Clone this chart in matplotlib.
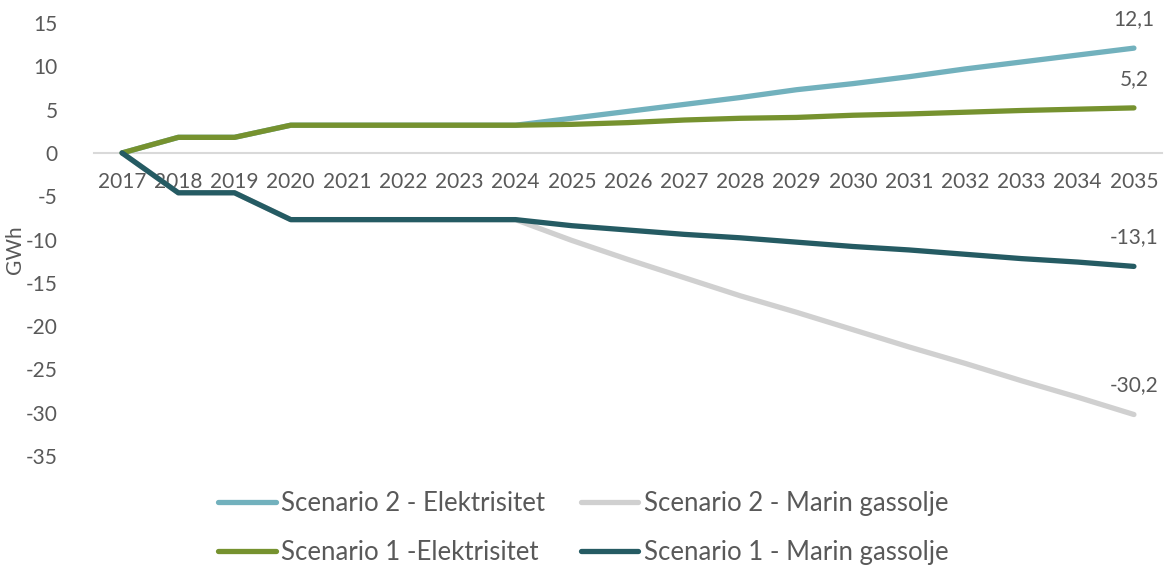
import matplotlib
matplotlib.use("Agg")
import matplotlib.pyplot as plt

plt.rcParams["font.family"] = ["Lato", "DejaVu Sans"]
plt.rcParams["axes.unicode_minus"] = False

years = [str(y) for y in range(2017, 2036)]

s2_el = [0, 1.8, 1.8, 3.2, 3.2, 3.2, 3.2, 3.2, 4.0, 4.8, 5.6, 6.4, 7.3, 8.0, 8.8, 9.7, 10.5, 11.3, 12.1]
s2_mgo = [0, -4.6, -4.6, -7.7, -7.7, -7.7, -7.7, -7.7, -10.1, -12.3, -14.4, -16.5, -18.4, -20.4, -22.4, -24.3, -26.3, -28.2, -30.2]
s1_el = [0, 1.8, 1.8, 3.2, 3.2, 3.2, 3.2, 3.2, 3.3, 3.5, 3.8, 4.0, 4.1, 4.35, 4.5, 4.7, 4.9, 5.05, 5.2]
s1_mgo = [0, -4.6, -4.6, -7.7, -7.7, -7.7, -7.7, -7.7, -8.4, -8.9, -9.4, -9.8, -10.3, -10.8, -11.2, -11.7, -12.2, -12.6, -13.1]

labels = ["Scenario 2 - Elektrisitet", "Scenario 2 - Marin gassolje",
          "Scenario 1 -Elektrisitet", "Scenario 1 - Marin gassolje"]
colors = ["#72B1BD", "#D0D0D0", "#76922F", "#255B63"]
series = [s2_el, s2_mgo, s1_el, s1_mgo]

txt = "#595959"

fig = plt.figure(figsize=(11.66, 5.68), dpi=100)
ax = fig.add_axes([0.0806, 0.197, 0.916, 0.7625])

x = list(range(len(years)))
handles = []
for vals, col, lab in zip(series, colors, labels):
    h, = ax.plot(x, vals, color=col, lw=3.8, solid_capstyle="round",
                 solid_joinstyle="round", label=lab, zorder=3)
    handles.append(h)
    v = vals[-1]
    ax.annotate(f"{v:.1f}".replace(".", ","), (x[-1], v), xytext=(0, 21),
                textcoords="offset points", ha="center", va="center",
                fontsize=15, color=txt)

ax.set_xlim(-0.5, len(years) - 0.5)
ax.set_ylim(-35, 15)
ax.set_yticks(range(-35, 16, 5))
ax.set_xticks(x)
ax.set_xticklabels(years)

for s in ["top", "right", "left"]:
    ax.spines[s].set_visible(False)
ax.spines["bottom"].set_position(("data", 0))
ax.spines["bottom"].set_color("#D9D9D9")
ax.spines["bottom"].set_linewidth(1.5)
ax.spines["bottom"].set_zorder(0)

ax.tick_params(axis="x", length=0, pad=14, labelsize=15, labelcolor=txt)
ax.tick_params(axis="y", length=0, pad=26, labelsize=15, labelcolor=txt)

fig.text(15 / 1166, 1 - 250 / 568, "GWh", rotation=90, ha="center",
         va="center", fontsize=15, color=txt)

# two rows: Scenario 2 on top, Scenario 1 below
order = [0, 2, 1, 3]
fig.legend([handles[i] for i in order], [labels[i] for i in order],
           ncol=2, loc="center", bbox_to_anchor=(583 / 1166, 1 - 528 / 568),
           frameon=False, fontsize=18.5, labelcolor=txt, handlelength=2.25,
           handletextpad=0.2, columnspacing=1.4, labelspacing=0.95)

fig.savefig("out.png", dpi=100)
